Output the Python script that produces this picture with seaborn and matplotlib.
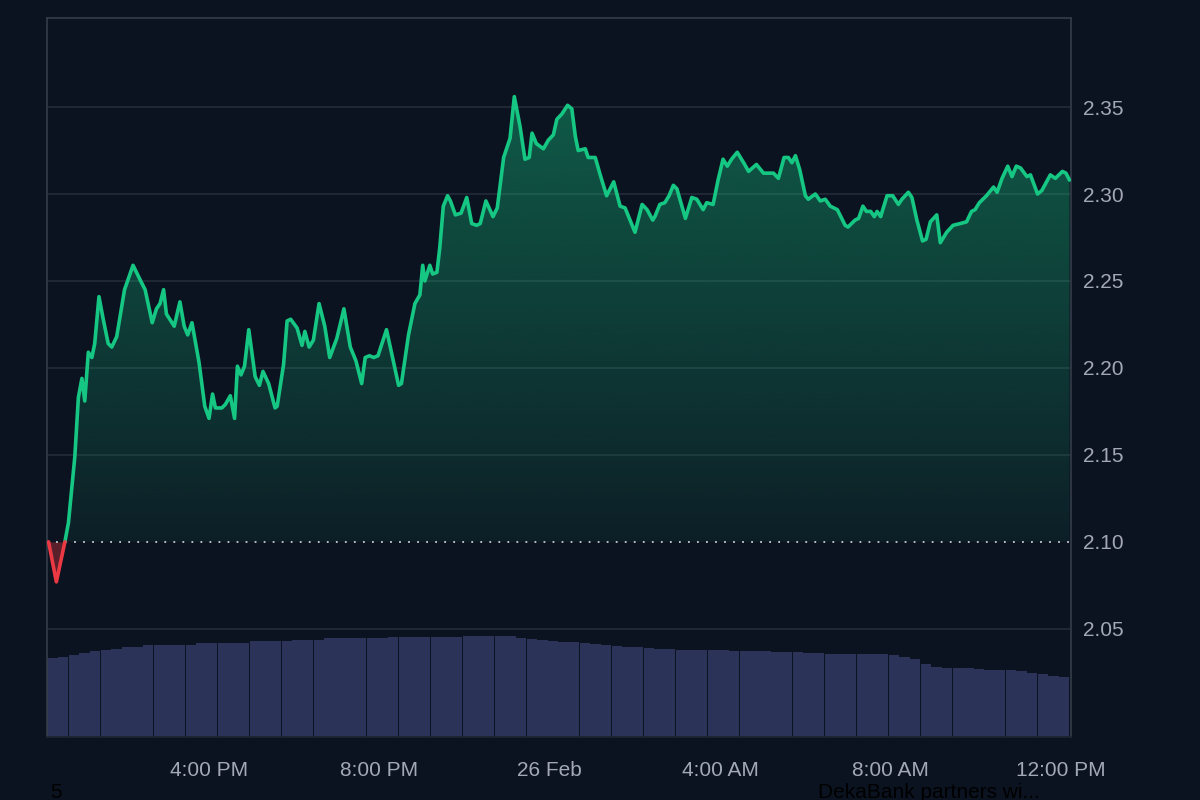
import numpy as np
import pandas as pd
import matplotlib
matplotlib.use("Agg")
import matplotlib.pyplot as plt
import seaborn as sns

# ---------------- data ----------------
# minutes since 12:00 PM, 25 Feb
minutes = [14, 25, 37, 42, 51, 56, 61, 65, 70, 75, 79, 85, 91, 98, 103, 110, 121, 133, 145, 150,
           160, 166, 171, 176, 180, 191, 199, 205, 210, 216, 226, 234, 240, 245, 249, 258, 263, 270,
           276, 280, 285, 290, 296, 305, 311, 316, 324, 333, 336, 345, 350, 355, 364, 371, 375, 381,
           387, 395, 403, 410, 420, 430, 439, 447, 455, 460, 466, 472, 478, 490, 500, 507, 511, 521,
           530, 537, 541, 544, 551, 555, 561, 565, 570, 576, 580, 587, 595, 603, 610, 617, 622, 630,
           640, 646, 655, 664, 670, 678, 685, 691, 695, 701, 711, 718, 725, 730, 737, 745, 751, 756,
           760, 770, 774, 784, 791, 800, 810, 819, 826, 840, 850, 857, 865, 868, 875, 882, 888, 894,
           899, 911, 920, 927, 936, 941, 950, 957, 964, 970, 976, 984, 993, 1000, 1011, 1021, 1030,
           1035, 1042, 1050, 1056, 1061, 1066, 1072, 1080, 1084, 1094, 1101, 1108, 1115, 1125, 1136,
           1140, 1150, 1155, 1161, 1166, 1172, 1177, 1181, 1186, 1195, 1203, 1211, 1216, 1225, 1230,
           1237, 1245, 1250, 1256, 1265, 1270, 1279, 1288, 1298, 1307, 1314, 1319, 1325, 1335, 1345,
           1350, 1357, 1365, 1371, 1377, 1383, 1392, 1397, 1407, 1413, 1425, 1432, 1442, 1447, 1452]
prices = [2.100, 2.077, 2.100, 2.111, 2.149, 2.183, 2.194, 2.181, 2.209, 2.206, 2.214, 2.241, 2.228,
          2.214, 2.212, 2.218, 2.245, 2.259, 2.249, 2.245, 2.226, 2.234, 2.237, 2.245, 2.231, 2.224,
          2.238, 2.224, 2.219, 2.226, 2.203, 2.178, 2.171, 2.185, 2.177, 2.177, 2.179, 2.184, 2.171,
          2.201, 2.196, 2.201, 2.222, 2.195, 2.190, 2.198, 2.191, 2.177, 2.178, 2.202, 2.227, 2.228,
          2.223, 2.213, 2.221, 2.212, 2.216, 2.237, 2.224, 2.206, 2.217, 2.234, 2.212, 2.204, 2.191,
          2.206, 2.207, 2.206, 2.207, 2.222, 2.203, 2.190, 2.191, 2.219, 2.237, 2.242, 2.259, 2.250,
          2.259, 2.254, 2.255, 2.269, 2.293, 2.299, 2.296, 2.288, 2.289, 2.298, 2.283, 2.282, 2.283,
          2.296, 2.287, 2.292, 2.321, 2.332, 2.356, 2.339, 2.320, 2.321, 2.335, 2.329, 2.326, 2.331,
          2.334, 2.343, 2.346, 2.351, 2.349, 2.333, 2.325, 2.326, 2.321, 2.321, 2.311, 2.299, 2.307,
          2.293, 2.292, 2.278, 2.294, 2.291, 2.285, 2.287, 2.294, 2.295, 2.299, 2.305, 2.303, 2.286,
          2.298, 2.297, 2.291, 2.295, 2.294, 2.308, 2.320, 2.316, 2.320, 2.324, 2.318, 2.313, 2.317,
          2.312, 2.312, 2.312, 2.309, 2.321, 2.321, 2.318, 2.322, 2.314, 2.299, 2.297, 2.300, 2.296,
          2.297, 2.293, 2.291, 2.282, 2.281, 2.285, 2.286, 2.293, 2.290, 2.290, 2.287, 2.290, 2.287,
          2.299, 2.299, 2.294, 2.297, 2.301, 2.298, 2.285, 2.273, 2.274, 2.284, 2.288, 2.272, 2.278,
          2.282, 2.283, 2.284, 2.290, 2.291, 2.295, 2.299, 2.304, 2.301, 2.309, 2.316, 2.310, 2.316,
          2.315, 2.310, 2.311, 2.300, 2.302, 2.311, 2.309, 2.313, 2.312, 2.308]

# volume (arbitrary units), one bar per 15 minutes
volumes = [7.9, 8.0, 8.2, 8.4, 8.6, 8.7, 8.8, 9.0, 9.0, 9.2, 9.2, 9.2, 9.2, 9.2, 9.4, 9.4,
           9.4, 9.4, 9.4, 9.6, 9.6, 9.6, 9.6, 9.7, 9.7, 9.7, 9.9, 9.9, 9.9, 9.9, 9.9, 9.9,
           10.0, 10.0, 10.0, 10.0, 10.0, 10.0, 10.0, 10.1, 10.1, 10.1, 10.1, 10.1, 9.9, 9.8,
           9.7, 9.6, 9.5, 9.5, 9.4, 9.3, 9.2, 9.1, 9.0, 9.0, 8.9, 8.8, 8.8, 8.7, 8.7, 8.7,
           8.7, 8.7, 8.6, 8.6, 8.6, 8.6, 8.5, 8.5, 8.5, 8.4, 8.4, 8.3, 8.3, 8.3, 8.3, 8.3,
           8.3, 8.2, 8.0, 7.8, 7.3, 7.0, 6.9, 6.9, 6.9, 6.8, 6.7, 6.7, 6.7, 6.6, 6.4, 6.3,
           6.1, 6.0]
vol_minutes = 19.5 + 15 * np.arange(len(volumes))

baseline = 2.10
y_ticks = [2.05, 2.10, 2.15, 2.20, 2.25, 2.30, 2.35]
x_tick_minutes = [240, 480, 720, 960, 1200, 1440]
x_tick_labels = ["4:00 PM", "8:00 PM", "26 Feb", "4:00 AM", "8:00 AM", "12:00 PM"]

# ---------------- style ----------------
BG = "#0c1320"
GREEN = "#16c784"
RED = "#ea3943"
GRID = "#232b39"
SPINE = "#343c4a"
TICK = "#a3a9b4"
VOL = "#2b3359"

sns.set_theme(style="dark")
plt.rcParams["font.family"] = ["Liberation Sans", "DejaVu Sans"]

fig = plt.figure(figsize=(12, 8), dpi=100, facecolor=BG)
ax2 = fig.add_axes([47 / 1200, 63 / 800, 1024 / 1200, 719 / 800])
ax = ax2.twinx()
ax2.set_facecolor(BG)
ax.set_zorder(ax2.get_zorder() + 1)
ax.patch.set_visible(False)
ax.xaxis.set_visible(True)

# volume bars
vdf = pd.DataFrame({"t": vol_minutes, "v": volumes})
sns.barplot(data=vdf, x="t", y="v", ax=ax2, native_scale=True, color=VOL,
            saturation=1, width=0.97, linewidth=0)
ax2.set_ylim(0, 71.9)
ax2.set_yticks([])
ax2.set_xlabel("")
ax2.set_ylabel("")
for s in ax2.spines.values():
    s.set_visible(False)
ax2.grid(False)

# price
df = pd.DataFrame({"t": minutes, "p": prices})
red_df = df.iloc[:3]
green_df = df.iloc[2:]

# gradient fill under green line
poly = ax.fill_between(green_df["t"], green_df["p"], baseline, facecolor="none", edgecolor="none")
ptop = max(prices)
n = 256
alphas = np.linspace(0.07, 0.40, n)
img = np.zeros((n, 1, 4))
img[..., 0] = 22 / 255
img[..., 1] = 199 / 255
img[..., 2] = 132 / 255
img[..., 3] = alphas[:, None]
im = ax.imshow(img, extent=[minutes[0], minutes[-1], baseline, ptop], origin="lower",
               aspect="auto", zorder=1, interpolation="bicubic")
im.set_clip_path(poly.get_paths()[0], transform=ax.transData)

ax.fill_between(red_df["t"], red_df["p"], baseline, color=RED, alpha=0.35, lw=0, zorder=1)

# grid lines and baseline
for yv in y_ticks:
    if abs(yv - baseline) > 1e-9:
        ax.axhline(yv, color=GRID, lw=1.2, zorder=0.5)
ax.axhline(baseline, color="#c9ccd2", lw=1.3, ls=(0, (1, 4)), zorder=2)

sns.lineplot(data=green_df, x="t", y="p", ax=ax, color=GREEN, lw=2.6, sort=False,
             estimator=None, zorder=3)
sns.lineplot(data=red_df, x="t", y="p", ax=ax, color=RED, lw=2.6, sort=False,
             estimator=None, zorder=3)

ax.set_ylim(1.9878, 2.4012)
ax.set_xlim(11.8, 1454.1)
ax2.set_xlim(11.8, 1454.1)
ax.set_yticks(y_ticks)
ax.set_yticklabels([f"{v:.2f}" for v in y_ticks])
ax.set_xticks(x_tick_minutes)
ax.set_xticklabels(x_tick_labels)
ax.set_xlabel("")
ax.set_ylabel("")
ax.grid(False)
ax.tick_params(axis="y", length=0, pad=9, labelsize=15, labelcolor=TICK,
               right=True, labelright=True, left=False, labelleft=False)
ax.tick_params(axis="x", length=0, pad=17, labelsize=15, labelcolor=TICK,
               bottom=True, labelbottom=True)
ax2.tick_params(axis="x", length=0, labelbottom=False)
for name, s in ax.spines.items():
    s.set_visible(True)
    s.set_color(SPINE)
    s.set_linewidth(1.2)
ax.spines["bottom"].set_color("#1c2331")

# faint texts at the bottom
fig.text(50 / 1200, 17 / 800, "5", color="#000000", fontsize=15, va="top", ha="left")
fig.text(818 / 1200, 17 / 800, "DekaBank partners wi...", color="#000000", fontsize=15,
         va="top", ha="left")

fig.savefig("out.png", dpi=100, facecolor=BG)
